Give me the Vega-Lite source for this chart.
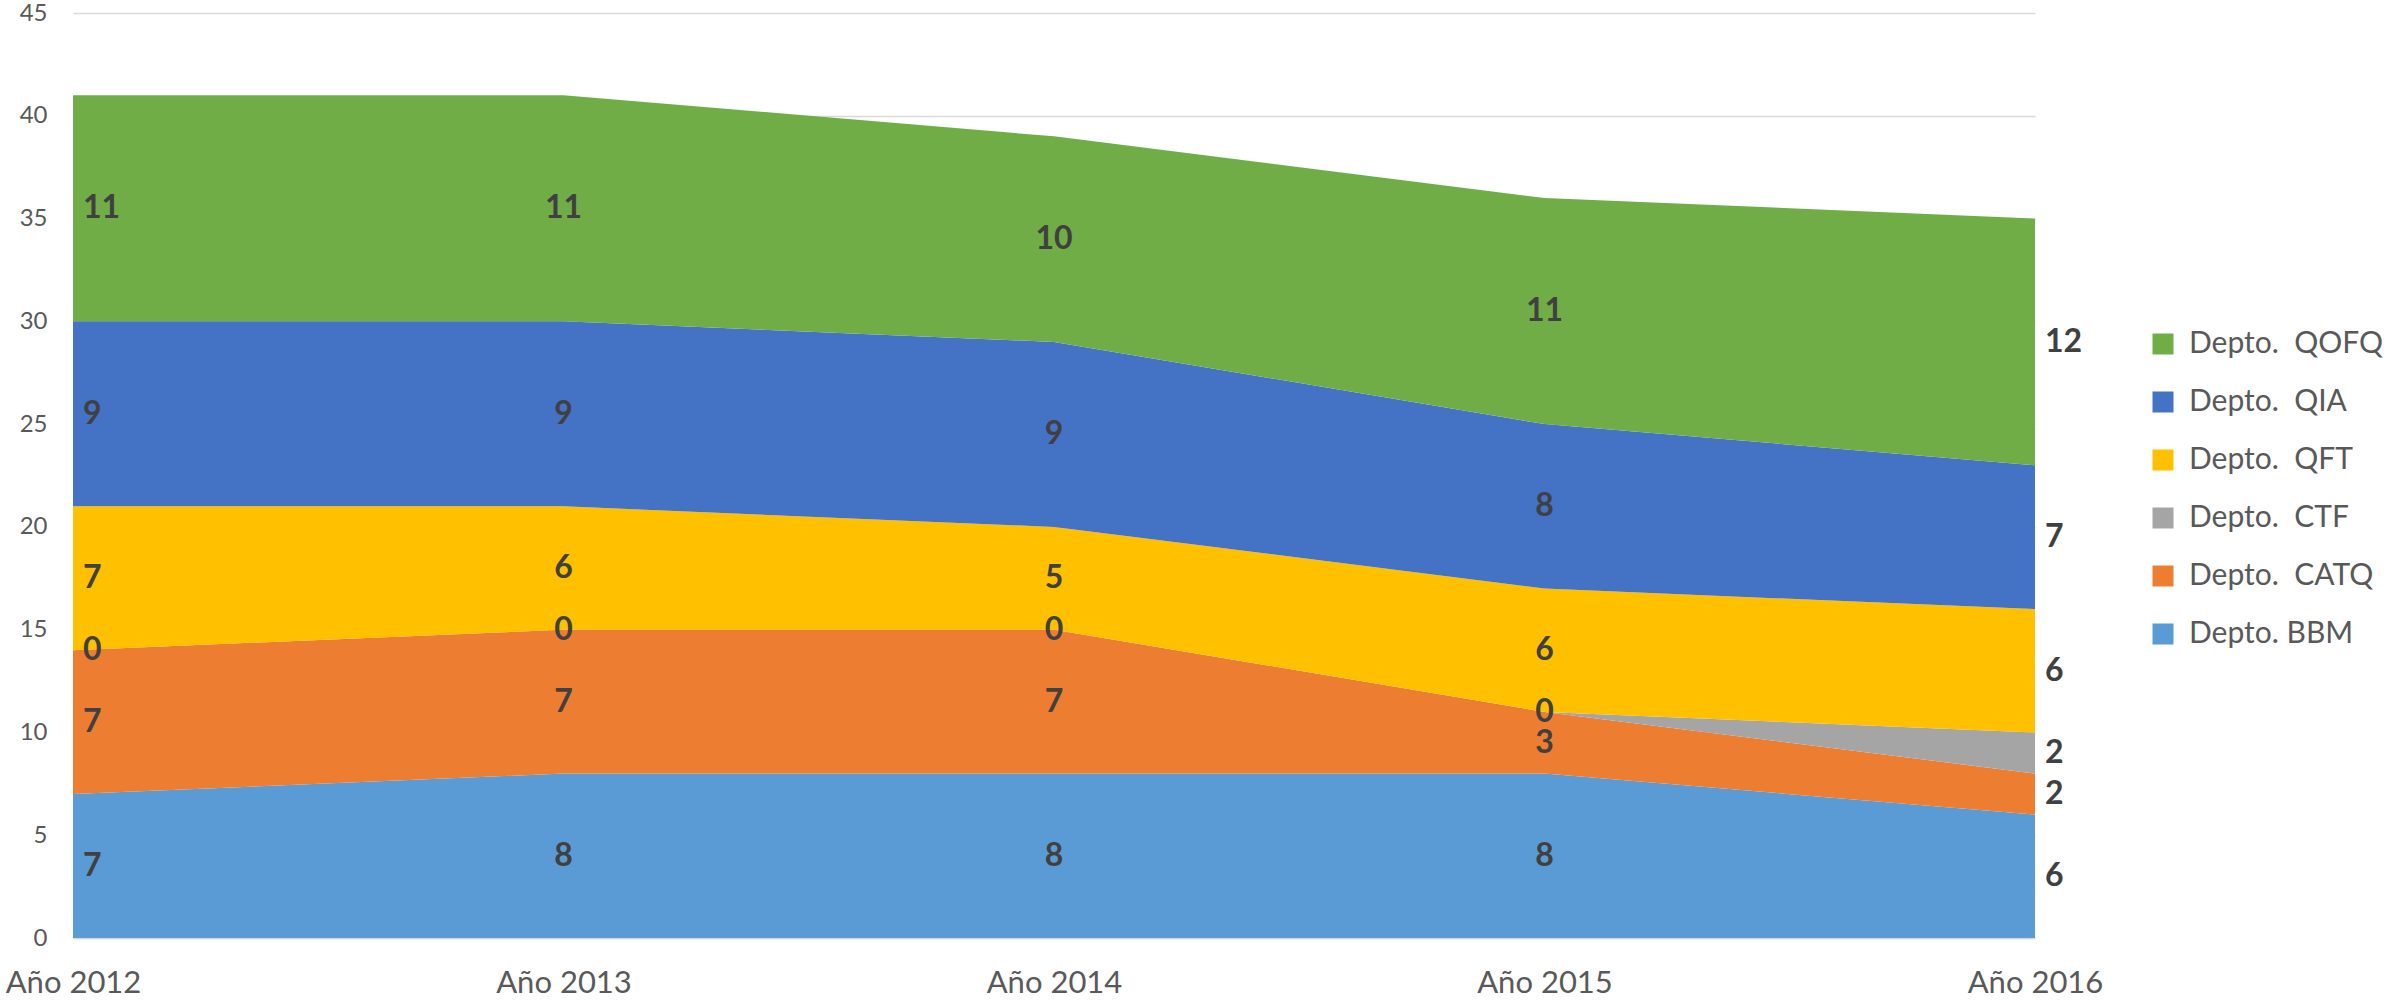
{
  "$schema": "https://vega.github.io/schema/vega-lite/v6.json",
  "autosize": {"type": "none"},
  "padding": {"left": 73, "top": 13, "right": 365, "bottom": 66},
  "width": 1962,
  "height": 925,
  "background": "white",
  "config": {"font": "Lato", "view": {"stroke": null}},
  "data": {
    "values": [
      {"year": "Año 2012", "dept": "Depto. BBM", "n": 7},
      {"year": "Año 2012", "dept": "Depto.\u00a0 CATQ", "n": 7},
      {"year": "Año 2012", "dept": "Depto.\u00a0 CTF", "n": 0},
      {"year": "Año 2012", "dept": "Depto.\u00a0 QFT", "n": 7},
      {"year": "Año 2012", "dept": "Depto.\u00a0 QIA", "n": 9},
      {"year": "Año 2012", "dept": "Depto.\u00a0 QOFQ", "n": 11},
      {"year": "Año 2013", "dept": "Depto. BBM", "n": 8},
      {"year": "Año 2013", "dept": "Depto.\u00a0 CATQ", "n": 7},
      {"year": "Año 2013", "dept": "Depto.\u00a0 CTF", "n": 0},
      {"year": "Año 2013", "dept": "Depto.\u00a0 QFT", "n": 6},
      {"year": "Año 2013", "dept": "Depto.\u00a0 QIA", "n": 9},
      {"year": "Año 2013", "dept": "Depto.\u00a0 QOFQ", "n": 11},
      {"year": "Año 2014", "dept": "Depto. BBM", "n": 8},
      {"year": "Año 2014", "dept": "Depto.\u00a0 CATQ", "n": 7},
      {"year": "Año 2014", "dept": "Depto.\u00a0 CTF", "n": 0},
      {"year": "Año 2014", "dept": "Depto.\u00a0 QFT", "n": 5},
      {"year": "Año 2014", "dept": "Depto.\u00a0 QIA", "n": 9},
      {"year": "Año 2014", "dept": "Depto.\u00a0 QOFQ", "n": 10},
      {"year": "Año 2015", "dept": "Depto. BBM", "n": 8},
      {"year": "Año 2015", "dept": "Depto.\u00a0 CATQ", "n": 3},
      {"year": "Año 2015", "dept": "Depto.\u00a0 CTF", "n": 0},
      {"year": "Año 2015", "dept": "Depto.\u00a0 QFT", "n": 6},
      {"year": "Año 2015", "dept": "Depto.\u00a0 QIA", "n": 8},
      {"year": "Año 2015", "dept": "Depto.\u00a0 QOFQ", "n": 11},
      {"year": "Año 2016", "dept": "Depto. BBM", "n": 6},
      {"year": "Año 2016", "dept": "Depto.\u00a0 CATQ", "n": 2},
      {"year": "Año 2016", "dept": "Depto.\u00a0 CTF", "n": 2},
      {"year": "Año 2016", "dept": "Depto.\u00a0 QFT", "n": 6},
      {"year": "Año 2016", "dept": "Depto.\u00a0 QIA", "n": 7},
      {"year": "Año 2016", "dept": "Depto.\u00a0 QOFQ", "n": 12}
    ]
  },
  "transform": [
    {"stack": "n", "groupby": ["year"], "sort": [{"field": "dept", "order": "ascending"}], "as": ["y0", "y1"]},
    {"calculate": "(datum.y0 + datum.y1) / 2", "as": "ymid"}
  ],
  "encoding": {
    "x": {
      "field": "year",
      "type": "ordinal",
      "scale": {"type": "point", "padding": 0},
      "axis": {
        "title": null,
        "labelAngle": 0,
        "labelFontSize": 31,
        "labelColor": "#595959",
        "ticks": false,
        "domainColor": "#D9D9D9",
        "domainWidth": 1.5,
        "labelPadding": 30,
        "grid": false
      }
    }
  },
  "layer": [
    {
      "mark": {"type": "area", "opacity": 1},
      "encoding": {
        "y": {
          "field": "y0",
          "type": "quantitative",
          "scale": {"domain": [0, 45], "nice": false},
          "axis": {
            "title": null,
            "values": [0, 5, 10, 15, 20, 25, 30, 35, 40, 45],
            "domain": false,
            "ticks": false,
            "labelFontSize": 24,
            "labelColor": "#595959",
            "labelPadding": 26,
            "gridColor": "#D9D9D9",
            "gridWidth": 1.5
          }
        },
        "y2": {"field": "y1"},
        "color": {
          "field": "dept",
          "type": "nominal",
          "scale": {
            "domain": ["Depto.\u00a0 QOFQ", "Depto.\u00a0 QIA", "Depto.\u00a0 QFT", "Depto.\u00a0 CTF", "Depto.\u00a0 CATQ", "Depto. BBM"],
            "range": ["#70AD47", "#4472C4", "#FFC000", "#A5A5A5", "#ED7D31", "#5B9BD5"]
          },
          "legend": {
            "title": null,
            "orient": "none",
            "legendX": 2075,
            "legendY": 316,
            "symbolType": "square",
            "symbolSize": 441,
            "symbolOpacity": 1,
            "symbolStrokeWidth": 0,
            "labelFontSize": 30,
            "labelColor": "#595959",
            "labelOffset": 11,
            "labelLimit": 400,
            "rowPadding": 28
          }
        }
      }
    },
    {
      "transform": [{"filter": "datum.year == 'Año 2012'"}],
      "mark": {"type": "text", "align": "left", "dx": 10, "fontSize": 32, "fontWeight": "bold", "color": "#404040", "baseline": "middle"},
      "encoding": {
        "y": {"field": "ymid", "type": "quantitative"},
        "text": {"field": "n", "type": "quantitative"}
      }
    },
    {
      "transform": [{"filter": "datum.year != 'Año 2012' && datum.year != 'Año 2016'"}],
      "mark": {"type": "text", "align": "center", "fontSize": 32, "fontWeight": "bold", "color": "#404040", "baseline": "middle"},
      "encoding": {
        "y": {"field": "ymid", "type": "quantitative"},
        "text": {"field": "n", "type": "quantitative"}
      }
    },
    {
      "transform": [{"filter": "datum.year == 'Año 2016'"}],
      "mark": {"type": "text", "align": "left", "dx": 10, "fontSize": 32, "fontWeight": "bold", "color": "#404040", "baseline": "middle"},
      "encoding": {
        "y": {"field": "ymid", "type": "quantitative"},
        "text": {"field": "n", "type": "quantitative"}
      }
    }
  ]
}
